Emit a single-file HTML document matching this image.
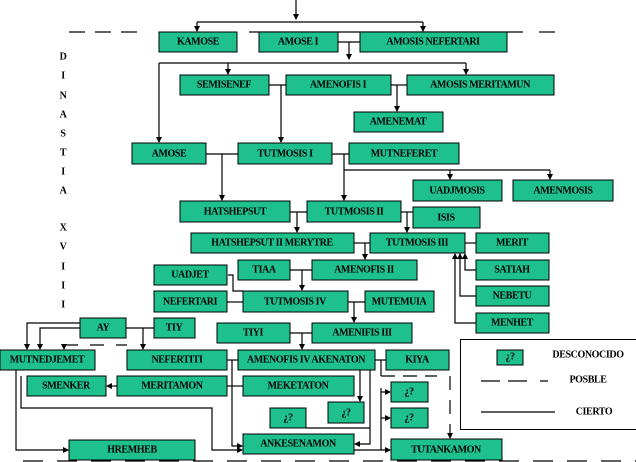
<!DOCTYPE html>
<html><head><meta charset="utf-8"><style>
html,body{margin:0;padding:0;background:#fff}
svg{display:block}
text{font-family:"Liberation Serif",serif;font-weight:bold;font-size:10px;text-anchor:middle;dominant-baseline:central;letter-spacing:-0.4px}
.b{fill:#1ec08e;stroke:#000;stroke-width:1}
.l{stroke:#000;stroke-width:1.2;fill:none}
.d{stroke:#000;stroke-width:1.2;fill:none;stroke-dasharray:16 10}
</style></head><body>
<svg width="636" height="462" viewBox="0 0 636 462" xmlns="http://www.w3.org/2000/svg">
<defs><marker id="a" markerWidth="6" markerHeight="6" refX="5" refY="3" orient="auto" markerUnits="userSpaceOnUse"><path d="M0,0L6,3L0,6z" fill="#000"/></marker></defs>
<!-- dashed top -->
<path class="d" d="M69 32H145"/>
<path class="l" d="M249 32H523"/>
<path class="l" d="M539 32H555"/>
<!-- top lines -->
<path class="l" d="M296 0V19" marker-end="url(#a)"/>
<path class="l" d="M197 22H423"/>
<path class="l" d="M197 22V31" marker-end="url(#a)"/>
<path class="l" d="M423 22V31" marker-end="url(#a)"/>
<path class="l" d="M338 42H360"/>
<path class="l" d="M349 42V59" marker-end="url(#a)"/>
<path class="l" d="M159 63H466"/>
<path class="l" d="M159 63V142" marker-end="url(#a)"/>
<path class="l" d="M228 63V74" marker-end="url(#a)"/>
<path class="l" d="M466 63V74" marker-end="url(#a)"/>
<path class="l" d="M269 85H286"/>
<path class="l" d="M281 85V142" marker-end="url(#a)"/>
<path class="l" d="M391 85H407"/>
<path class="l" d="M397 85V111" marker-end="url(#a)"/>
<path class="l" d="M206 154H238"/>
<path class="l" d="M222 154V200" marker-end="url(#a)"/>
<path class="l" d="M332 154H349"/>
<path class="l" d="M344 154V200" marker-end="url(#a)"/>
<path class="l" d="M344 170H550"/>
<path class="l" d="M450 170V179" marker-end="url(#a)"/>
<path class="l" d="M550 170V179" marker-end="url(#a)"/>
<path class="l" d="M290 212H307"/>
<path class="l" d="M297 212V232" marker-end="url(#a)"/>
<path class="l" d="M401 212H413"/>
<path class="l" d="M407 212V232" marker-end="url(#a)"/>
<path class="l" d="M354 243H370"/>
<path class="l" d="M365 243V259" marker-end="url(#a)"/>
<path class="l" d="M465 243H476"/>
<path class="l" d="M476 270H465V254" marker-end="url(#a)"/>
<path class="l" d="M476 296H460V254" marker-end="url(#a)"/>
<path class="l" d="M476 323H455V254" marker-end="url(#a)"/>
<path class="l" d="M290 270H312"/>
<path class="l" d="M302 270V290" marker-end="url(#a)"/>
<path class="l" d="M228 275H233V291H243"/>
<path class="l" d="M227 302H243"/>
<path class="l" d="M348 302H365"/>
<path class="l" d="M354 302V322" marker-end="url(#a)"/>
<path class="l" d="M126 328H154"/>
<path class="l" d="M143 328V349" marker-end="url(#a)"/>
<path class="l" d="M80 323H27V349" marker-end="url(#a)"/>
<path class="l" d="M80 328H40V349" marker-end="url(#a)"/>
<path class="d" d="M64 345H127" style="stroke-dasharray:14 12"/>
<path class="l" d="M64 345V349" marker-end="url(#a)"/>
<path class="l" d="M290 333H312"/>
<path class="l" d="M302 333V349" marker-end="url(#a)"/>
<path class="l" d="M227 360H238"/>
<path class="l" d="M232 360V446H242" marker-end="url(#a)"/>
<path class="l" d="M227 386H243"/>
<path class="l" d="M117 386H107" marker-end="url(#a)"/>
<path class="l" d="M16 370V450H68" marker-end="url(#a)"/>
<path class="l" d="M21 376V408H212V450H242" marker-end="url(#a)"/>
<path class="l" d="M375 360H386"/>
<path class="l" d="M381 360V376"/>
<path class="d" d="M381 376H437" style="stroke-dasharray:14 8"/>
<path class="d" d="M450 376V438" style="stroke-dasharray:14 10" marker-end="url(#a)"/>
<path class="l" d="M360 370V401" marker-end="url(#a)"/>
<path class="l" d="M370 370V444H355" marker-end="url(#a)"/>
<path class="l" d="M306 428H370"/>
<path class="l" d="M354 450H390" marker-end="url(#a)"/>
<path class="l" d="M381 450V388"/>
<path class="l" d="M381 392H390" marker-end="url(#a)"/>
<path class="l" d="M381 418H390" marker-end="url(#a)"/>
<!-- bottom dashes -->
<path class="d" d="M23 461H636" style="stroke-dasharray:20 14"/>
<!-- boxes -->
<g>
<rect class="b" x="159" y="32" width="78" height="20"/><text x="198" y="42">KAMOSE</text>
<rect class="b" x="259" y="32" width="79" height="20"/><text x="298" y="42">AMOSE I</text>
<rect class="b" x="360" y="32" width="147" height="20"/><text x="433" y="42">AMOSIS NEFERTARI</text>
<rect class="b" x="180" y="75" width="89" height="20"/><text x="224" y="85">SEMISENEF</text>
<rect class="b" x="286" y="75" width="105" height="20"/><text x="338" y="85">AMENOFIS I</text>
<rect class="b" x="407" y="75" width="147" height="20"/><text x="480" y="85">AMOSIS MERITAMUN</text>
<rect class="b" x="354" y="112" width="89" height="20"/><text x="398" y="122">AMENEMAT</text>
<rect class="b" x="132" y="143" width="74" height="21"/><text x="169" y="154">AMOSE</text>
<rect class="b" x="238" y="143" width="94" height="21"/><text x="285" y="154">TUTMOSIS I</text>
<rect class="b" x="349" y="143" width="110" height="21"/><text x="404" y="154">MUTNEFERET</text>
<rect class="b" x="413" y="180" width="89" height="21"/><text x="457" y="191">UADJMOSIS</text>
<rect class="b" x="513" y="180" width="100" height="21"/><text x="563" y="191">AMENMOSIS</text>
<rect class="b" x="180" y="201" width="110" height="21"/><text x="235" y="212">HATSHEPSUT</text>
<rect class="b" x="307" y="201" width="94" height="21"/><text x="354" y="212">TUTMOSIS II</text>
<rect class="b" x="413" y="207" width="67" height="21"/><text x="446" y="218">ISIS</text>
<rect class="b" x="191" y="233" width="163" height="20"/><text x="272" y="243">HATSHEPSUT II MERYTRE</text>
<rect class="b" x="370" y="233" width="95" height="20"/><text x="417" y="243">TUTMOSIS III</text>
<rect class="b" x="476" y="233" width="73" height="20"/><text x="512" y="243">MERIT</text>
<rect class="b" x="238" y="260" width="52" height="20"/><text x="264" y="270">TIAA</text>
<rect class="b" x="312" y="260" width="105" height="20"/><text x="364" y="270">AMENOFIS II</text>
<rect class="b" x="476" y="260" width="73" height="20"/><text x="512" y="270">SATIAH</text>
<rect class="b" x="154" y="265" width="73" height="20"/><text x="190" y="275">UADJET</text>
<rect class="b" x="154" y="291" width="73" height="21"/><text x="190" y="302">NEFERTARI</text>
<rect class="b" x="243" y="291" width="105" height="21"/><text x="295" y="302">TUTMOSIS IV</text>
<rect class="b" x="365" y="291" width="69" height="21"/><text x="399" y="302">MUTEMUIA</text>
<rect class="b" x="476" y="286" width="73" height="20"/><text x="512" y="296">NEBETU</text>
<rect class="b" x="476" y="313" width="73" height="20"/><text x="512" y="323">MENHET</text>
<rect class="b" x="80" y="318" width="46" height="20"/><text x="103" y="328">AY</text>
<rect class="b" x="154" y="318" width="41" height="20"/><text x="174" y="328">TIY</text>
<rect class="b" x="217" y="323" width="73" height="20"/><text x="253" y="333">TIYI</text>
<rect class="b" x="312" y="323" width="100" height="20"/><text x="362" y="333">AMENIFIS III</text>
<rect class="b" x="0" y="350" width="95" height="20"/><text x="47" y="360">MUTNEDJEMET</text>
<rect class="b" x="127" y="350" width="100" height="20"/><text x="177" y="360">NEFERTITI</text>
<rect class="b" x="238" y="350" width="137" height="20"/><text x="306" y="360">AMENOFIS IV AKENATON</text>
<rect class="b" x="386" y="350" width="63" height="20"/><text x="417" y="360">KIYA</text>
<rect class="b" x="27" y="376" width="79" height="20"/><text x="66" y="386">SMENKER</text>
<rect class="b" x="117" y="376" width="110" height="20"/><text x="172" y="386">MERITAMON</text>
<rect class="b" x="243" y="376" width="111" height="20"/><text x="298" y="386">MEKETATON</text>
<rect class="b" x="270" y="408" width="36" height="20"/><text x="288" y="418">¿?</text>
<rect class="b" x="328" y="402" width="36" height="21"/><text x="346" y="413">¿?</text>
<rect class="b" x="391" y="382" width="37" height="20"/><text x="409" y="392">¿?</text>
<rect class="b" x="391" y="408" width="37" height="20"/><text x="409" y="418">¿?</text>
<rect class="b" x="243" y="434" width="111" height="20"/><text x="298" y="444">ANKESENAMON</text>
<rect class="b" x="391" y="439" width="111" height="21"/><text x="446" y="450">TUTANKAMON</text>
<rect class="b" x="69" y="440" width="126" height="20"/><text x="132" y="450">HREMHEB</text>
</g>
<!-- legend -->
<rect x="460.5" y="339.5" width="180" height="90" fill="#fff" stroke="#000"/>
<rect class="b" x="497" y="350" width="26" height="15"/><text x="510" y="357">¿?</text>
<text x="588" y="355">DESCONOCIDO</text>
<path class="l" d="M481 381H500M508 381H527M540 381H548"/>
<text x="588" y="380">POSBLE</text>
<path class="l" d="M481 412H555"/>
<text x="594" y="412">CIERTO</text>
<!-- dinastia -->
<g>
<text x="63" y="57">D</text><text x="63" y="76">I</text><text x="63" y="96">N</text><text x="63" y="115">A</text><text x="63" y="134">S</text><text x="63" y="153">T</text><text x="63" y="172">I</text><text x="63" y="191">A</text>
<text x="63" y="228">X</text><text x="63" y="247">V</text><text x="63" y="267">I</text><text x="63" y="286">I</text><text x="63" y="305">I</text>
</g>
</svg>
</body></html>
